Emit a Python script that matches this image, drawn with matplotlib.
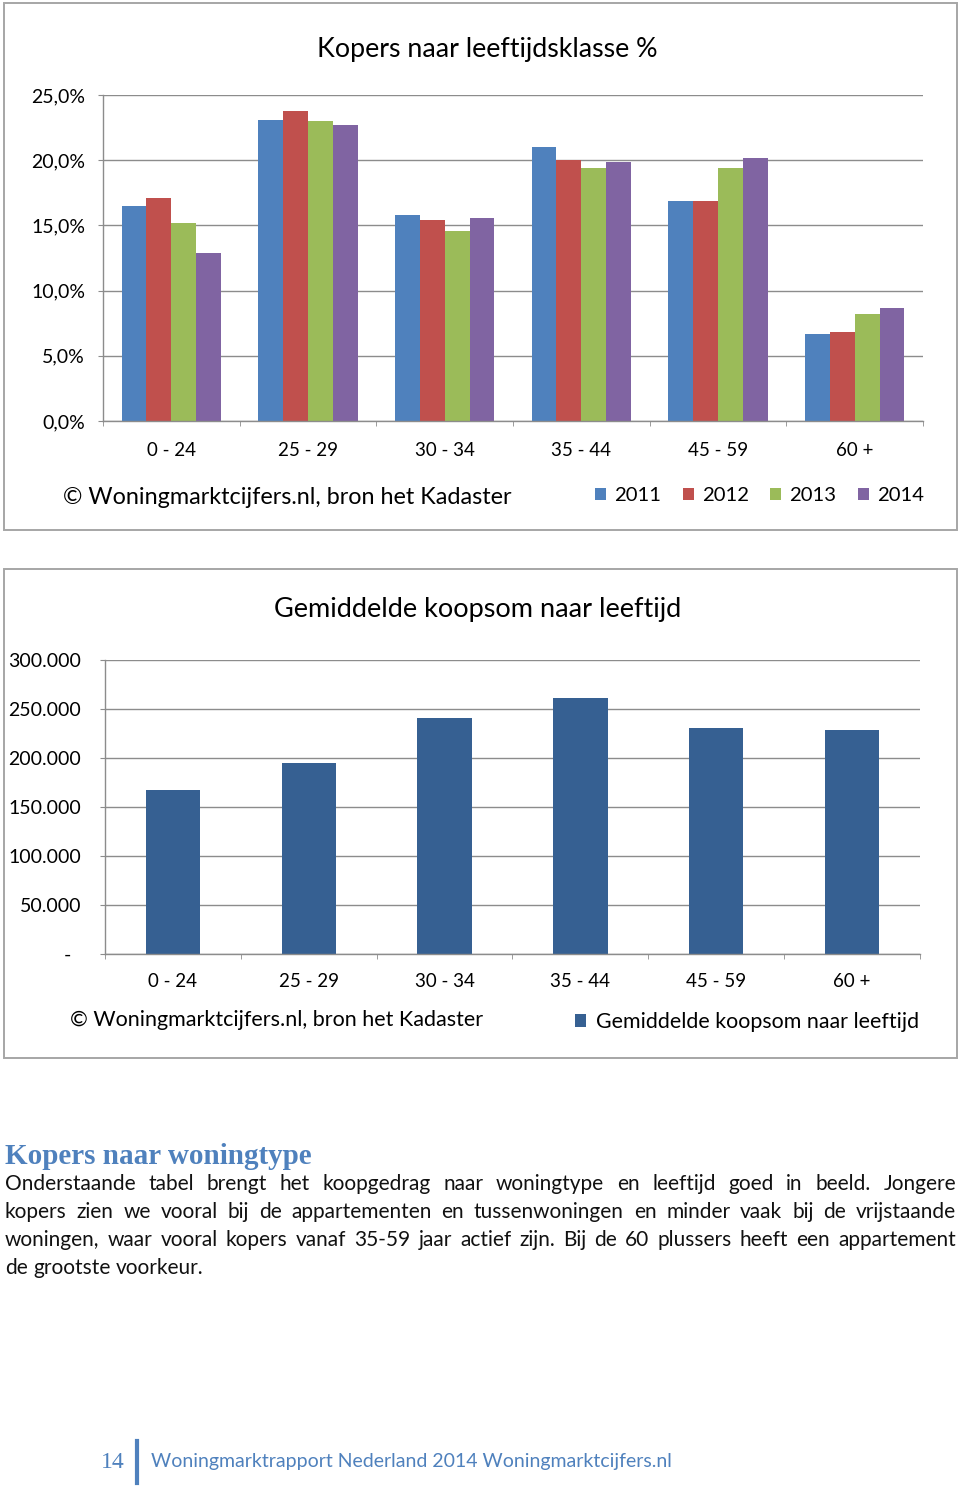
import matplotlib
matplotlib.use("Agg")
import matplotlib.pyplot as plt
from matplotlib.patches import Rectangle
from matplotlib.ticker import FixedLocator, FuncFormatter
import numpy as np

# ---- data ----
age_groups = ["0 - 24", "25 - 29", "30 - 34", "35 - 44", "45 - 59", "60 +"]
years = ["2011", "2012", "2013", "2014"]
share_2011 = [16.5, 23.1, 15.8, 21.0, 16.9, 6.7]
share_2012 = [17.1, 23.8, 15.4, 20.0, 16.9, 6.8]
share_2013 = [15.2, 23.0, 14.6, 19.4, 19.4, 8.2]
share_2014 = [12.9, 22.7, 15.6, 19.9, 20.2, 8.7]
avg_price = [167000, 195000, 240500, 261500, 230500, 229000]

body_lines = [
    "Onderstaande tabel brengt het koopgedrag naar woningtype en leeftijd goed in beeld. Jongere",
    "kopers zien we vooral bij de appartementen en tussenwoningen en minder vaak bij de vrijstaande",
    "woningen, waar vooral kopers vanaf 35-59 jaar actief zijn. Bij de 60 plussers heeft een appartement",
    "de grootste voorkeur.",
]

W, H = 960, 1488
SANS = ["Lato", "DejaVu Sans"]
plt.rcParams["font.family"] = SANS

fig = plt.figure(figsize=(W / 100, H / 100), dpi=100)
PT = 100 / 72  # px per point


def fx(x):
    return x / W


def fy(y):
    return 1 - y / H


def axes_px(left, top, right, bottom):
    return fig.add_axes([fx(left), fy(bottom), (right - left) / W, (bottom - top) / H])


def frame(left, top, right, bottom):
    fig.patches.append(Rectangle((fx(left), fy(bottom)), (right - left) / W, (bottom - top) / H,
                                 transform=fig.transFigure, fill=False,
                                 edgecolor="#a6a6a6", lw=1.4))


def style_axes(ax, ypad, xpad):
    grey = "#8c8c8c"
    for s in ["top", "right"]:
        ax.spines[s].set_visible(False)
    for s in ["left", "bottom"]:
        ax.spines[s].set_color(grey)
        ax.spines[s].set_linewidth(1.0)
    ax.set_axisbelow(True)
    ax.yaxis.grid(True, color=grey, lw=1.0)
    ax.set_xlim(-0.5, 5.5)
    ax.set_xticks(range(6))
    ax.set_xticklabels(age_groups, fontsize=13.5)
    ax.tick_params(axis="x", length=0, pad=xpad)
    ax.xaxis.set_minor_locator(FixedLocator(np.arange(-0.5, 6, 1)))
    ax.tick_params(axis="x", which="minor", length=5 / PT, color=grey, direction="out")
    ax.tick_params(axis="y", length=5 / PT, color=grey, labelsize=14, pad=ypad)


# ---- chart 1 ----
frame(4, 3, 957, 530)
ax1 = axes_px(103, 95, 923, 421)
style_axes(ax1, (103 - 85 - 5) / PT, 15)
x = np.arange(len(age_groups))
bw = 1 / 5.5
colors = ["#4f81bd", "#c0504d", "#9bbb59", "#8064a2"]
handles = []
for i, (yr, vals) in enumerate(zip(years, [share_2011, share_2012, share_2013, share_2014])):
    b = ax1.bar(x + (i - 1.5) * bw, vals, width=bw, color=colors[i], label=yr)
    handles.append(b)
ax1.set_ylim(0, 25)
ax1.set_yticks(np.arange(0, 26, 5))
ax1.yaxis.set_major_formatter(FuncFormatter(lambda v, p: f"{v:.1f}%".replace(".", ",")))
fig.text(fx(487), fy(50), "Kopers naar leeftijdsklasse %", ha="center", va="center", fontsize=19.3)
fig.text(fx(63), fy(498), "\u00a9 Woningmarktcijfers.nl, bron het Kadaster", ha="left", va="center",
         fontsize=16.8)
ax1.legend(handles=handles, ncol=4, frameon=False, fontsize=14.6, loc="center left",
           bbox_to_anchor=(fx(595), fy(496)), bbox_transform=fig.transFigure,
           handlelength=0.55, handleheight=0.55, handletextpad=0.4, columnspacing=1.05,
           borderpad=0, borderaxespad=0)

# ---- chart 2 ----
frame(4, 569, 957, 1058)
ax2 = axes_px(105, 660, 920, 954)
style_axes(ax2, (105 - 81 - 5) / PT, 14)
bars2 = ax2.bar(x, avg_price, width=0.4, color="#366092", label="Gemiddelde koopsom naar leeftijd")
ax2.set_ylim(0, 300000)
ax2.set_yticks(np.arange(0, 300001, 50000))
ax2.yaxis.set_major_formatter(FuncFormatter(
    lambda v, p: "-  " if v == 0 else f"{v:,.0f}".replace(",", ".")))
fig.text(fx(478), fy(609), "Gemiddelde koopsom naar leeftijd", ha="center", va="center",
         fontsize=19.5)
fig.text(fx(70), fy(1020), "\u00a9 Woningmarktcijfers.nl, bron het Kadaster", ha="left", va="center",
         fontsize=15.5)
ax2.legend(handles=[bars2], frameon=False, fontsize=15.4, loc="center left",
           bbox_to_anchor=(fx(575), fy(1022)), bbox_transform=fig.transFigure,
           handlelength=0.5, handleheight=0.5, handletextpad=0.5,
           borderpad=0, borderaxespad=0)

# ---- body text ----
fig.text(fx(5), fy(1157), "Kopers naar woningtype", ha="left", va="center", fontsize=21,
         fontweight="bold", family=["Liberation Serif", "DejaVu Serif"], color="#4f81bd")

renderer = fig.canvas.get_renderer()
x0, x1 = 5, 956
line_y = [1184, 1212, 1240, 1268]


def natural_width(s, size):
    t = fig.text(0, 0, s, fontsize=size)
    w = t.get_window_extent(renderer).width
    t.remove()
    return w


body_size = 15.0
longest = max(natural_width(l, body_size) for l in body_lines[:-1])
if longest > (x1 - x0) * 0.985:
    body_size *= (x1 - x0) * 0.985 / longest
space_w = natural_width("a a", body_size) - natural_width("aa", body_size)

for k, (line, yy) in enumerate(zip(body_lines, line_y)):
    words = line.split(" ")
    texts = [fig.text(0, fy(yy), w, ha="left", va="center", fontsize=body_size, color="#111111")
             for w in words]
    widths = [t.get_window_extent(renderer).width for t in texts]
    if k < len(body_lines) - 1:
        gap = (x1 - x0 - sum(widths)) / (len(words) - 1)
    else:
        gap = space_w
    xpos = x0
    for t, w in zip(texts, widths):
        t.set_x(fx(xpos))
        xpos += w + gap

# ---- footer ----
fig.text(fx(125), fy(1462), "14", ha="right", va="center", fontsize=17,
         family=["Liberation Serif", "DejaVu Serif"], color="#4f81bd")
fig.add_artist(plt.Line2D([fx(137), fx(137)], [fy(1441), fy(1483)], transform=fig.transFigure,
                          color="#4f81bd", lw=3))
fig.text(fx(151), fy(1461), "Woningmarktrapport Nederland 2014 Woningmarktcijfers.nl", ha="left",
         va="center", fontsize=14, color="#4f81bd")

fig.savefig("out.png", dpi=100)
